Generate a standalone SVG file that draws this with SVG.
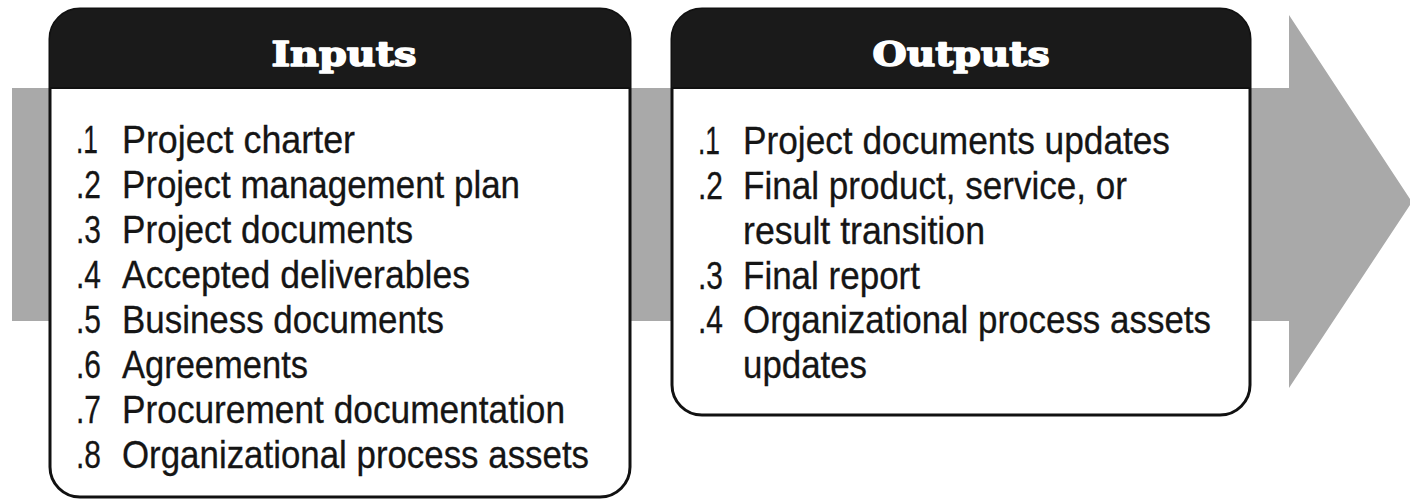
<svg xmlns="http://www.w3.org/2000/svg" width="1410" height="500" viewBox="0 0 1410 500">
<style>
.box{fill:#ffffff;stroke:#111111;stroke-width:3}
.hdr{fill:#1a1a1a}
.title{font-family:"DejaVu Serif","Liberation Serif",serif;font-weight:bold;font-size:34px;fill:#ffffff;stroke:#ffffff;stroke-width:1.6;stroke-linejoin:round;text-anchor:middle}
.item{font-family:"Liberation Sans",Arial,sans-serif;font-size:38px;fill:#151515;stroke:#151515;stroke-width:0.3}
</style>
<rect width="1410" height="500" fill="#ffffff"/>
<g id="connectors">
<polygon id="flow-arrow" points="12,88 1289,88 1289,15 1412,202 1289,388 1289,321 12,321" fill="#a9a9a9"/>
</g>
<g id="inputs">
<rect class="box" x="50" y="9" width="580" height="488" rx="30" ry="30"/>
<path class="hdr" d="M50,88 V39 A30,30 0 0 1 80,9 H600 A30,30 0 0 1 630,39 V88 Z"/>
<line x1="50" y1="88" x2="630" y2="88" stroke="#111" stroke-width="2"/>
<text class="title" x="344" y="66" textLength="145" lengthAdjust="spacingAndGlyphs">Inputs</text>
<g class="item">
<text x="76" y="153" textLength="22" lengthAdjust="spacingAndGlyphs">.1</text>
<text x="122" y="153" textLength="233" lengthAdjust="spacingAndGlyphs">Project charter</text>
<text x="76" y="198" textLength="25" lengthAdjust="spacingAndGlyphs">.2</text>
<text x="122" y="198" textLength="398" lengthAdjust="spacingAndGlyphs">Project management plan</text>
<text x="76" y="243" textLength="25" lengthAdjust="spacingAndGlyphs">.3</text>
<text x="122" y="243" textLength="291" lengthAdjust="spacingAndGlyphs">Project documents</text>
<text x="76" y="288" textLength="25" lengthAdjust="spacingAndGlyphs">.4</text>
<text x="122" y="288" textLength="348" lengthAdjust="spacingAndGlyphs">Accepted deliverables</text>
<text x="76" y="333" textLength="25" lengthAdjust="spacingAndGlyphs">.5</text>
<text x="122" y="333" textLength="322" lengthAdjust="spacingAndGlyphs">Business documents</text>
<text x="76" y="378" textLength="25" lengthAdjust="spacingAndGlyphs">.6</text>
<text x="122" y="378" textLength="186" lengthAdjust="spacingAndGlyphs">Agreements</text>
<text x="76" y="423" textLength="25" lengthAdjust="spacingAndGlyphs">.7</text>
<text x="122" y="423" textLength="443" lengthAdjust="spacingAndGlyphs">Procurement documentation</text>
<text x="76" y="468" textLength="25" lengthAdjust="spacingAndGlyphs">.8</text>
<text x="122" y="468" textLength="467" lengthAdjust="spacingAndGlyphs">Organizational process assets</text>
</g>
</g>
<g id="outputs">
<rect class="box" x="672" y="9" width="578" height="406" rx="30" ry="30"/>
<path class="hdr" d="M672,88 V39 A30,30 0 0 1 702,9 H1220 A30,30 0 0 1 1250,39 V88 Z"/>
<line x1="672" y1="88" x2="1250" y2="88" stroke="#111" stroke-width="2"/>
<text class="title" x="961" y="66" textLength="177" lengthAdjust="spacingAndGlyphs">Outputs</text>
<g class="item">
<text x="698" y="154" textLength="22" lengthAdjust="spacingAndGlyphs">.1</text>
<text x="743" y="154" textLength="427" lengthAdjust="spacingAndGlyphs">Project documents updates</text>
<text x="698" y="199" textLength="25" lengthAdjust="spacingAndGlyphs">.2</text>
<text x="743" y="199" textLength="384" lengthAdjust="spacingAndGlyphs">Final product, service, or</text>
<text x="743" y="244" textLength="242" lengthAdjust="spacingAndGlyphs">result transition</text>
<text x="698" y="289" textLength="25" lengthAdjust="spacingAndGlyphs">.3</text>
<text x="743" y="289" textLength="177" lengthAdjust="spacingAndGlyphs">Final report</text>
<text x="698" y="333" textLength="25" lengthAdjust="spacingAndGlyphs">.4</text>
<text x="743" y="333" textLength="468" lengthAdjust="spacingAndGlyphs">Organizational process assets</text>
<text x="743" y="378" textLength="124" lengthAdjust="spacingAndGlyphs">updates</text>
</g>
</g>
</svg>
